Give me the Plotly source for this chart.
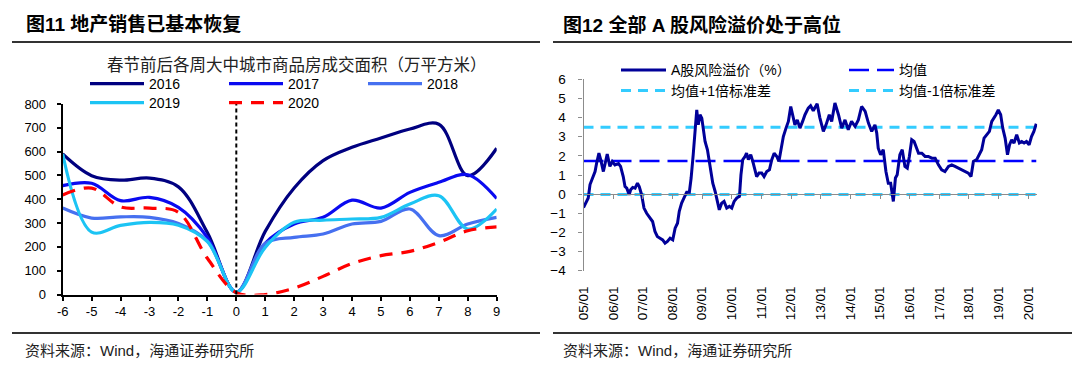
import plotly.graph_objects as go

W, H = 1080, 374
OFF = 8  # page body margin of the html page

# ---------------- Left chart data ----------------
weeks = list(range(-6, 10))
week_labels = [str(w) for w in weeks]
festival_week = 0
s2016 = [590, 499, 480, 489, 452, 260, 10, 265, 447, 562, 618, 657, 695, 715, 499, 614]
s2017 = [457, 467, 394, 408, 366, 240, 10, 215, 296, 324, 396, 363, 429, 471, 503, 403]
s2018 = [363, 321, 326, 324, 298, 225, 10, 215, 240, 254, 296, 307, 359, 247, 296, 324]
s2019 = [590, 262, 290, 303, 291, 222, 10, 198, 303, 312, 317, 324, 380, 415, 275, 359]
s2020 = [418, 447, 368, 363, 345, 152, 8, 0, 27, 76, 130, 163, 181, 219, 268, 284]
left_names = ["2016", "2017", "2018", "2019", "2020"]
left_series = [s2016, s2017, s2018, s2019, s2020]

# ---------------- Right chart data ----------------
rp_years = [
    2005.00, 2005.11, 2005.16, 2005.22, 2005.31, 2005.39, 2005.44, 2005.52, 2005.58, 2005.67,
    2005.73, 2005.80, 2005.89, 2005.97, 2006.06, 2006.18, 2006.25, 2006.34, 2006.40, 2006.46,
    2006.54, 2006.59, 2006.66, 2006.74, 2006.82, 2006.88, 2006.96, 2007.04, 2007.13, 2007.24,
    2007.33, 2007.41, 2007.49, 2007.58, 2007.67, 2007.75, 2007.83, 2007.92, 2008.01, 2008.09,
    2008.17, 2008.23, 2008.31, 2008.39, 2008.48, 2008.57, 2008.63, 2008.70, 2008.76, 2008.82,
    2008.87, 2008.93, 2008.99, 2009.04, 2009.10, 2009.18, 2009.27, 2009.36, 2009.44, 2009.51,
    2009.58, 2009.66, 2009.74, 2009.83, 2009.92, 2010.00, 2010.08, 2010.17, 2010.26, 2010.31,
    2010.37, 2010.45, 2010.50, 2010.56, 2010.64, 2010.71, 2010.78, 2010.84, 2010.92, 2011.01,
    2011.09, 2011.18, 2011.27, 2011.35, 2011.43, 2011.52, 2011.59, 2011.66, 2011.74, 2011.83,
    2011.91, 2011.99, 2012.05, 2012.13, 2012.21, 2012.30, 2012.39, 2012.47, 2012.58, 2012.66,
    2012.75, 2012.88, 2012.97, 2013.09, 2013.18, 2013.29, 2013.37, 2013.48, 2013.60, 2013.71,
    2013.82, 2013.93, 2014.04, 2014.16, 2014.27, 2014.38, 2014.50, 2014.61, 2014.72, 2014.83,
    2014.89, 2014.94, 2015.02, 2015.11, 2015.20, 2015.28, 2015.36, 2015.45, 2015.52, 2015.58,
    2015.67, 2015.75, 2015.84, 2015.92, 2015.99, 2016.07, 2016.15, 2016.22, 2016.30, 2016.41,
    2016.52, 2016.63, 2016.75, 2016.86, 2016.97, 2017.08, 2017.19, 2017.31, 2017.42, 2017.53,
    2017.64, 2017.75, 2017.87, 2017.98, 2018.07, 2018.15, 2018.26, 2018.35, 2018.43, 2018.51,
    2018.60, 2018.69, 2018.77, 2018.85, 2018.91, 2018.99, 2019.07, 2019.14, 2019.22, 2019.30,
    2019.37, 2019.44, 2019.52, 2019.61, 2019.70, 2019.78, 2019.86, 2019.94, 2020.03, 2020.11,
    2020.19, 2020.27,
]
rp_values = [
    -0.70, -0.30, -0.20, 0.50, 0.92, 1.18, 1.60, 2.14, 1.80, 1.18,
    1.60, 2.09, 1.45, 1.70, 1.53, 1.60, 1.45, 0.92, 0.40, 0.31,
    -0.03, 0.23, 0.35, 0.31, 0.57, 0.40, -0.03, -0.73, -1.00, -1.25,
    -1.43, -1.95, -2.21, -2.30, -2.39, -2.56, -2.47, -2.30, -2.39, -1.78,
    -1.52, -0.90, -0.47, -0.20, 0.10, 0.10, 0.84, 2.06, 3.28, 4.40,
    3.62, 4.15, 3.97, 3.28, 2.75, 2.32, 1.36, 0.57, 0.14, -0.38,
    -0.82, -0.47, -0.38, -0.73, -0.64, -0.73, -0.38, -0.20, -0.12, 1.01,
    1.80, 1.97, 2.14, 1.80, 2.06, 1.71, 1.27, 0.92, 1.10, 1.10,
    0.92, 1.18, 1.27, 1.80, 2.14, 1.97, 1.71, 2.40, 3.01, 3.45,
    3.80, 4.58, 4.15, 3.62, 3.88, 3.45, 3.80, 4.15, 4.49, 4.62,
    4.36, 4.72, 4.00, 3.28, 3.62, 4.15, 3.80, 4.76, 4.15, 3.45,
    3.88, 3.36, 3.80, 3.54, 3.88, 4.58, 4.32, 3.71, 3.28, 3.62,
    3.19, 2.40, 2.06, 2.32, 1.18, 0.57, 0.57, -0.38, 0.84, 1.01,
    2.06, 2.32, 1.45, 1.36, 1.97, 2.84, 2.75, 2.49, 2.14, 2.14,
    1.97, 1.97, 1.88, 1.88, 1.53, 1.27, 1.18, 1.45, 1.53, 1.45,
    1.36, 1.27, 1.18, 1.10, 0.92, 1.71, 1.80, 2.06, 2.32, 2.93,
    3.10, 3.28, 3.80, 3.97, 4.15, 4.40, 4.15, 3.45, 2.93, 2.06,
    2.58, 2.84, 2.67, 3.10, 2.67, 2.75, 2.67, 2.75, 2.58, 3.01,
    3.28, 3.68,
]
rp_mean = 1.73
rp_plus_1sd = 3.49
rp_minus_1sd = -0.02
year_ticks = list(range(2005, 2021))
year_labels = ["%02d/01" % (y % 100) for y in year_ticks]
right_names = ["A股风险溢价（%）", "均值", "均值+1倍标准差", "均值-1倍标准差"]

# ---------------- Styling ----------------
LAT = "Liberation Sans, Arial, Noto Sans CJK SC, sans-serif"
CJK = "Liberation Sans, Noto Sans CJK SC, sans-serif"
left_colors = ["#000080", "#0A0AF0", "#4670F0", "#1CC4F4", "#FF0000"]

def px_x(p):
    return (p - OFF) / W

def px_y(p):
    return 1 - (p - OFF) / H

fig = go.Figure()

# Left chart traces
left_legends = ["legend", "legend", "legend", "legend2", "legend2"]
for name, ys, col, lg in zip(left_names, left_series, left_colors, left_legends):
    fig.add_trace(go.Scatter(
        x=weeks, y=ys, name=name, mode="lines",
        line=dict(color=col, width=3.2, shape="spline", smoothing=1,
                  dash="13px,9px" if name == "2020" else "solid"),
        xaxis="x", yaxis="y", legend=lg,
    ))

# Right chart traces
r_first, r_last = rp_years[0], rp_years[-1]
fig.add_trace(go.Scatter(
    x=[r_first, r_last], y=[rp_plus_1sd, rp_plus_1sd], name=right_names[2], mode="lines",
    line=dict(color="#33CCFF", width=3, dash="10px,7px"),
    xaxis="x2", yaxis="y2", legend="legend4", legendrank=2))
fig.add_trace(go.Scatter(
    x=[r_first, r_last], y=[rp_minus_1sd, rp_minus_1sd], name=right_names[3], mode="lines",
    line=dict(color="#33CCFF", width=3, dash="10px,7px"),
    xaxis="x2", yaxis="y2", legend="legend4", legendrank=3))
fig.add_trace(go.Scatter(
    x=[r_first, r_last], y=[rp_mean, rp_mean], name=right_names[1], mode="lines",
    line=dict(color="#0000FF", width=2.6, dash="20px,8px"),
    xaxis="x2", yaxis="y2", legend="legend3", legendrank=2))
fig.add_trace(go.Scatter(
    x=rp_years, y=rp_values, name=right_names[0], mode="lines",
    line=dict(color="#000099", width=3),
    xaxis="x2", yaxis="y2", legend="legend3", legendrank=1))
# anchor trace for the zero-line axis
fig.add_trace(go.Scatter(x=[r_first], y=[rp_mean], mode="lines", showlegend=False,
                         hoverinfo="skip", xaxis="x3", yaxis="y2",
                         line=dict(color="rgba(0,0,0,0)")))

# Domains
lx = [px_x(62.7), px_x(496.7)]
ly = [px_y(294.5), px_y(104)]
rx0 = 583.5
r_range = [2005.0, 2020.3]
rx1 = rx0 + (r_range[1] - r_range[0]) * 29.65
rx = [px_x(rx0), px_x(rx1)]
ry = [px_y(270.7), px_y(79.3)]
r_yrange = [-4, 6]
zero_pos = ry[0] + (0 - r_yrange[0]) / (r_yrange[1] - r_yrange[0]) * (ry[1] - ry[0])

axis_font = dict(family=LAT, size=13, color="#000000")
fig.update_layout(
    template="none",
    width=W, height=H, margin=dict(l=0, r=0, t=0, b=0, autoexpand=False),
    paper_bgcolor="white", plot_bgcolor="rgba(0,0,0,0)",
    font=dict(family=CJK, size=14, color="#000000"),
    xaxis=dict(domain=lx, range=[weeks[0], weeks[-1]], anchor="y", automargin=False,
               tickmode="array", tickvals=weeks, ticktext=week_labels,
               showline=True, linecolor="#000000", linewidth=2,
               ticks="outside", ticklen=4, tickwidth=1.5, tickcolor="#000000",
               showgrid=False, zeroline=False, tickfont=axis_font, fixedrange=True),
    yaxis=dict(domain=ly, range=[0, 800], anchor="x", dtick=100, tick0=0, automargin=False,
               showline=True, linecolor="#000000", linewidth=2,
               ticks="outside", ticklen=4, tickwidth=1.5, tickcolor="#000000",
               showgrid=False, zeroline=False, tickfont=axis_font,
               ticklabelstandoff=8, fixedrange=True),
    xaxis2=dict(domain=rx, range=r_range, anchor="y2", automargin=False,
                tickmode="array", tickvals=year_ticks, ticktext=year_labels,
                tickangle=-90, showline=False, ticks="", showgrid=False, zeroline=False,
                tickfont=dict(family=LAT, size=13.5, color="#000000"),
                ticklabelstandoff=12, fixedrange=True),
    xaxis3=dict(domain=rx, range=r_range, anchor="free", position=zero_pos, automargin=False,
                overlaying="x2", side="bottom",
                tickmode="array", tickvals=year_ticks, showticklabels=False,
                showline=True, linecolor="#8C8C8C", linewidth=1.2,
                ticks="outside", ticklen=4, tickcolor="#8C8C8C",
                showgrid=False, zeroline=False, fixedrange=True),
    yaxis2=dict(domain=ry, range=r_yrange, anchor="x2", dtick=1, tick0=0, automargin=False,
                showline=True, linecolor="#8C8C8C", linewidth=1.2,
                ticks="outside", ticklen=4, tickcolor="#8C8C8C",
                showgrid=False, zeroline=False,
                tickfont=dict(family=LAT, size=13.5, color="#000000"),
                ticklabelstandoff=10, fixedrange=True),
    showlegend=True,
)

LEG_DY = 20  # legend item centre below legend top
leg_common = dict(orientation="h", xanchor="left", yanchor="top",
                  bgcolor="rgba(0,0,0,0)", borderwidth=0,
                  entrywidthmode="pixels", traceorder="normal",
                  font=dict(family=CJK, size=14, color="#000000"))
fig.update_layout(
    legend=dict(x=px_x(85), y=px_y(88 - LEG_DY), itemwidth=54, entrywidth=70, **leg_common),
    legend2=dict(x=px_x(85), y=px_y(107 - LEG_DY), itemwidth=54, entrywidth=70, **leg_common),
    legend3=dict(x=px_x(616), y=px_y(74.4 - LEG_DY), itemwidth=45, entrywidth=168, **leg_common),
    legend4=dict(x=px_x(616), y=px_y(95 - LEG_DY), itemwidth=45, entrywidth=168, **leg_common),
)

# Festival marker (week 0) vertical dashed line
shapes = [dict(type="line", xref="x", yref="y domain", x0=festival_week, x1=festival_week,
               y0=0, y1=1, line=dict(color="#000000", width=2, dash="4px,3px"), layer="above")]

# Header / footer rules
rule = dict(color="#333333", width=2)
for (xa, xb) in [(12, 540), (553, 1078)]:
    for yy in [6, 42, 333]:
        shapes.append(dict(type="line", xref="paper", yref="paper",
                           x0=px_x(xa), x1=px_x(xb), y0=px_y(yy), y1=px_y(yy), line=rule))
fig.update_layout(shapes=shapes)

ann = []
ann.append(dict(text="<b>图11 地产销售已基本恢复</b>", x=px_x(24), y=px_y(25),
                xref="paper", yref="paper", xanchor="left", yanchor="middle", showarrow=False,
                font=dict(family=CJK, size=19, color="#000000")))
ann.append(dict(text="<b>图12 全部 A 股风险溢价处于高位</b>", x=px_x(561), y=px_y(25),
                xref="paper", yref="paper", xanchor="left", yanchor="middle", showarrow=False,
                font=dict(family=CJK, size=19, color="#000000")))
ann.append(dict(text="春节前后各周大中城市商品房成交面积（万平方米）", x=px_x(297), y=px_y(63.5),
                xref="paper", yref="paper", xanchor="center", yanchor="middle", showarrow=False,
                borderpad=0,
                font=dict(family="Noto Sans CJK SC, sans-serif", size=16.5, color="#222222")))
for xs in [23, 561]:
    ann.append(dict(text="资料来源：Wind，海通证券研究所", x=px_x(xs), y=px_y(350),
                    xref="paper", yref="paper", xanchor="left", yanchor="middle", showarrow=False,
                    font=dict(family=CJK, size=15, color="#222222")))
fig.update_layout(annotations=ann)

fig.write_html("out.html")
